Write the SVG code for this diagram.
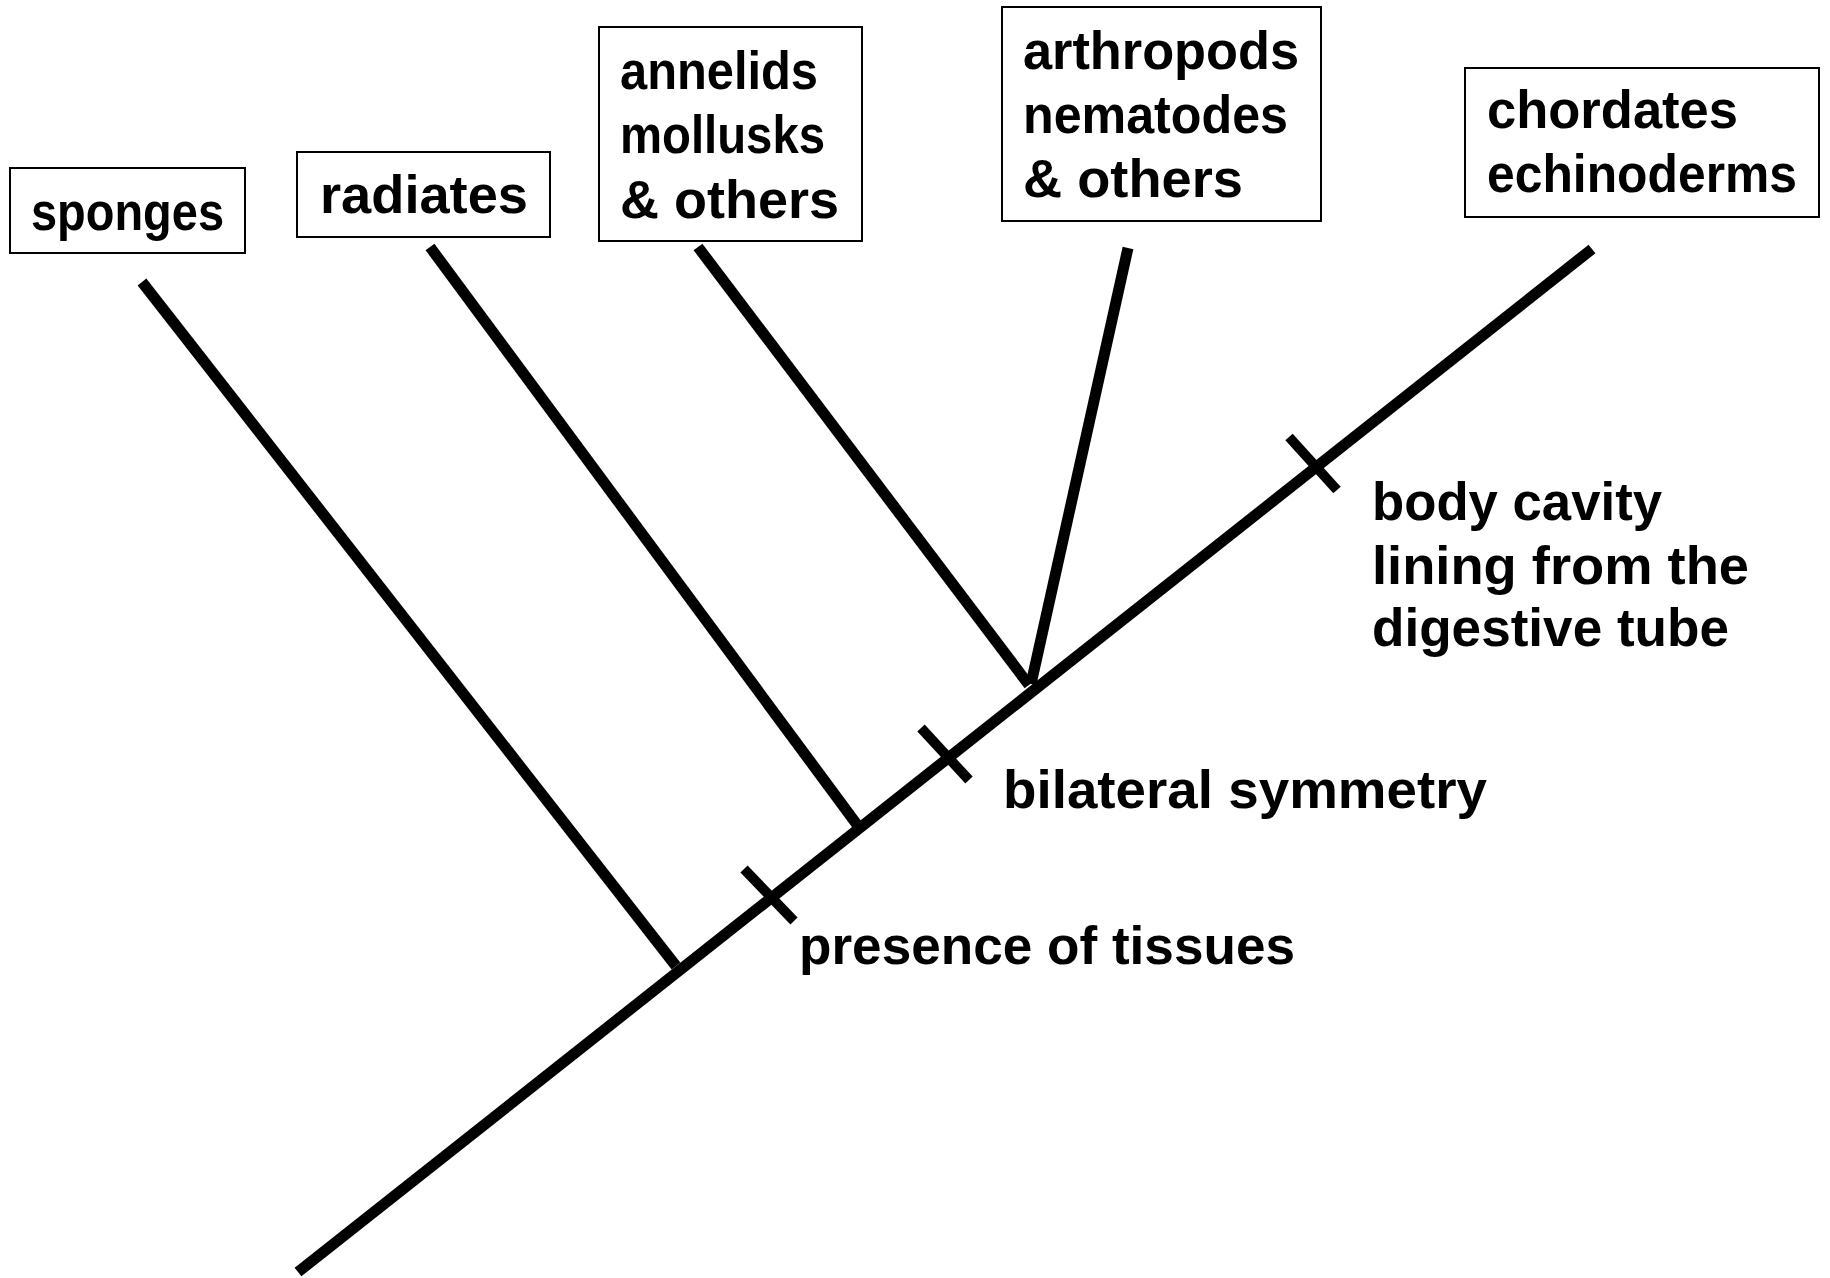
<svg xmlns="http://www.w3.org/2000/svg" width="1830" height="1278" viewBox="0 0 1830 1278">
<style>
.box{fill:#fff;stroke:#000;stroke-width:2}
.t{font-family:"Liberation Sans",Arial,sans-serif;font-weight:bold;font-size:54px;fill:#000}
.br{stroke:#000;stroke-width:11;fill:none;stroke-linecap:butt}
.tr{stroke:#000;stroke-width:11;fill:none}
.tk{stroke:#000;stroke-width:10;fill:none}
</style>
<rect width="1830" height="1278" fill="#fff"/>
<g id="connectors">
<line id="trunk" class="tr" x1="298" y1="1272" x2="1592" y2="249"/>
<line class="br" x1="142" y1="282" x2="676" y2="966"/>
<line class="br" x1="430" y1="247" x2="858" y2="826"/>
<line class="br" x1="698" y1="247" x2="1029" y2="685"/>
<line class="br" x1="1128" y1="248" x2="1031" y2="684"/>
</g>
<g id="ticks">
<line class="tk" x1="744" y1="869" x2="794" y2="921"/>
<line class="tk" x1="921" y1="728" x2="969" y2="780"/>
<line class="tk" x1="1289" y1="437" x2="1337" y2="490"/>
</g>
<g id="sponges">
<rect class="box" x="10" y="168" width="235" height="85"/>
<text class="t" x="31" y="230" textLength="193" lengthAdjust="spacingAndGlyphs">sponges</text>
</g>
<g id="radiates">
<rect class="box" x="297" y="152" width="253" height="85"/>
<text class="t" x="320" y="213" textLength="208" lengthAdjust="spacingAndGlyphs">radiates</text>
</g>
<g id="annelids">
<rect class="box" x="599" y="27" width="263" height="214"/>
<text class="t" x="620" y="89" textLength="198" lengthAdjust="spacingAndGlyphs">annelids</text>
<text class="t" x="620" y="153" textLength="205" lengthAdjust="spacingAndGlyphs">mollusks</text>
<text class="t" x="620" y="218" textLength="219" lengthAdjust="spacingAndGlyphs">&amp; others</text>
</g>
<g id="arthropods">
<rect class="box" x="1002" y="7" width="319" height="214"/>
<text class="t" x="1023" y="69" textLength="276" lengthAdjust="spacingAndGlyphs">arthropods</text>
<text class="t" x="1023" y="133" textLength="265" lengthAdjust="spacingAndGlyphs">nematodes</text>
<text class="t" x="1023" y="197" textLength="220" lengthAdjust="spacingAndGlyphs">&amp; others</text>
</g>
<g id="chordates">
<rect class="box" x="1465" y="68" width="354" height="149"/>
<text class="t" x="1487" y="128" textLength="251" lengthAdjust="spacingAndGlyphs">chordates</text>
<text class="t" x="1487" y="192" textLength="310" lengthAdjust="spacingAndGlyphs">echinoderms</text>
</g>
<g id="labels">
<text class="t" x="1372" y="520" textLength="290" lengthAdjust="spacingAndGlyphs">body cavity</text>
<text class="t" x="1372" y="584" textLength="377" lengthAdjust="spacingAndGlyphs">lining from the</text>
<text class="t" x="1372" y="646" textLength="357" lengthAdjust="spacingAndGlyphs">digestive tube</text>
<text class="t" x="1003" y="808" textLength="484" lengthAdjust="spacingAndGlyphs">bilateral symmetry</text>
<text class="t" x="799" y="964" textLength="496" lengthAdjust="spacingAndGlyphs">presence of tissues</text>
</g>
</svg>
